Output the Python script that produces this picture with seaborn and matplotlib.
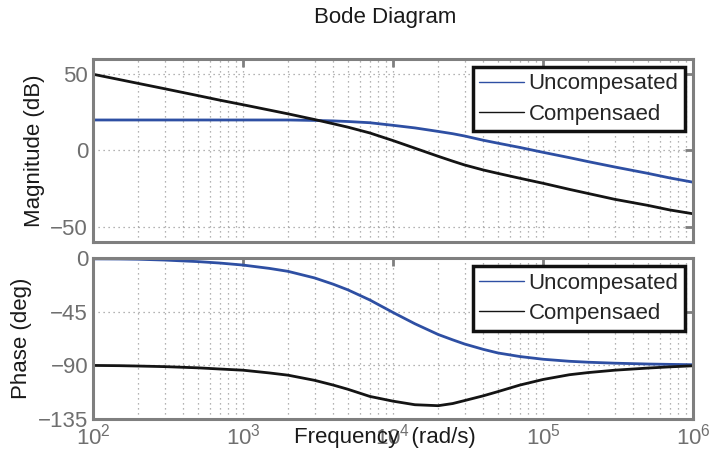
import matplotlib
matplotlib.use("Agg")
import matplotlib.pyplot as plt
import seaborn as sns
from matplotlib.ticker import LogLocator, NullFormatter, FixedLocator

# values
freq = [1e2, 1.5e2, 2e2, 3e2, 5e2, 7e2, 1e3, 1.5e3, 2e3, 3e3, 4e3, 5e3, 7e3,
        1e4, 1.4e4, 2e4, 2.5e4, 3e4, 4e4, 5e4, 7e4, 1e5, 1.5e5, 2e5, 3e5,
        5e5, 7e5, 1e6]
mag_uncomp = [20, 20, 20, 20, 20, 20, 20, 20, 20, 19.7, 19.4, 19, 18.2,
              16.5, 14.8, 12.5, 11, 9.5, 6.7, 4.8, 2, -1.2, -4.7, -7.3, -10.8,
              -15, -18, -20.8]
mag_comp = [50, 46.5, 44, 40.5, 36, 33, 30, 26.5, 24, 20.3, 17.5, 15.3, 11.5,
            6.5, 1.5, -3.8, -7, -9.5, -12.8, -15, -18.2, -21.5, -25.5, -28.2, -32,
            -36, -39, -41.5]
phase_uncomp = [-0.5, -0.6, -0.8, -1.5, -2.8, -4, -5.7, -8.5, -11, -16.5, -21.8, -26.5, -35,
                -45.5, -55, -64, -68.5, -72, -76.5, -79.5, -82.5, -84.8, -86.5, -87.3, -88.1,
                -88.8, -89.1, -89.4]
phase_comp = [-90, -90.2, -90.5, -91, -92, -93, -94, -96.3, -98.2, -102.5, -106.5, -110, -116,
              -120, -123, -123.8, -122, -119.5, -115.5, -112, -106.5, -101.8, -97.8, -96, -94,
              -92.2, -91.2, -90.3]

labels = ["Uncompesated", "Compensaed"]
blue = "#2e4fa3"
black = "#141414"
spine_gray = "#7f7f7f"

sns.set_style("white")
plt.rcParams['font.family'] = ['Liberation Sans', 'DejaVu Sans']
plt.rcParams['mathtext.fontset'] = 'custom'
plt.rcParams['mathtext.rm'] = 'Liberation Sans'
plt.rcParams['mathtext.it'] = 'Liberation Sans'

fig = plt.figure(figsize=(7.11, 4.59), dpi=100)
ax1 = fig.add_axes([0.1308, 0.4728, 0.8439, 0.3987])
ax2 = fig.add_axes([0.1308, 0.0871, 0.8439, 0.3502])


def style_axes(ax, yticks, ylim):
    ax.set_xscale('log')
    ax.set_xlim(1e2, 1e6)
    ax.set_ylim(*ylim)
    ax.xaxis.set_major_locator(LogLocator(base=10, numticks=10))
    ax.xaxis.set_minor_locator(LogLocator(base=10, subs=range(2, 10), numticks=50))
    ax.xaxis.set_minor_formatter(NullFormatter())
    ax.yaxis.set_major_locator(FixedLocator(yticks))
    ax.grid(which='both', axis='x', ls=(0, (1, 3)), color='#9a9a9a', lw=0.9)
    ax.grid(which='major', axis='y', ls=(0, (1, 3)), color='#9a9a9a', lw=0.9)
    ax.tick_params(which='major', direction='in', length=6, width=2,
                   color=spine_gray, labelcolor='#6f6f6f', labelsize=16,
                   top=True, right=True)
    ax.tick_params(which='minor', direction='in', length=0)
    for sp in ax.spines.values():
        sp.set_color(spine_gray)
        sp.set_linewidth(2.2)


sns.lineplot(x=freq, y=mag_uncomp, ax=ax1, color=blue, lw=2, label=labels[0])
sns.lineplot(x=freq, y=mag_comp, ax=ax1, color=black, lw=2, label=labels[1])
style_axes(ax1, [-50, 0, 50], (-60, 60))
ax1.tick_params(labelbottom=False)
ax1.set_ylabel("Magnitude (dB)", fontsize=16, color='#1a1a1a')
ax1.set_xlabel("")

sns.lineplot(x=freq, y=phase_uncomp, ax=ax2, color=blue, lw=2, label=labels[0])
sns.lineplot(x=freq, y=phase_comp, ax=ax2, color=black, lw=2, label=labels[1])
style_axes(ax2, [-135, -90, -45, 0], (-135, 0))
ax2.set_ylabel("Phase (deg)", fontsize=16, color='#1a1a1a')
ax2.set_xlabel("Frequency  (rad/s)", fontsize=16, color='#1a1a1a')
ax2.xaxis.set_label_coords(0.486, -0.05)
ax2.xaxis.label.set_va('top')

for ax in (ax1, ax2):
    leg = ax.legend(loc='upper right', fontsize=16, frameon=True, fancybox=False,
                    handlelength=2.0, handletextpad=0.22, borderpad=0.3,
                    labelspacing=0.42, borderaxespad=0.35, framealpha=1)
    leg.get_frame().set_edgecolor('#111111')
    leg.get_frame().set_linewidth(2.5)
    for line in leg.get_lines():
        line.set_linewidth(1)

fig.text(0.5415, 1 - 18 / 459, "Bode Diagram", ha='center', va='center',
         fontsize=16, color='#1a1a1a')

fig.savefig("out.png", dpi=100)
